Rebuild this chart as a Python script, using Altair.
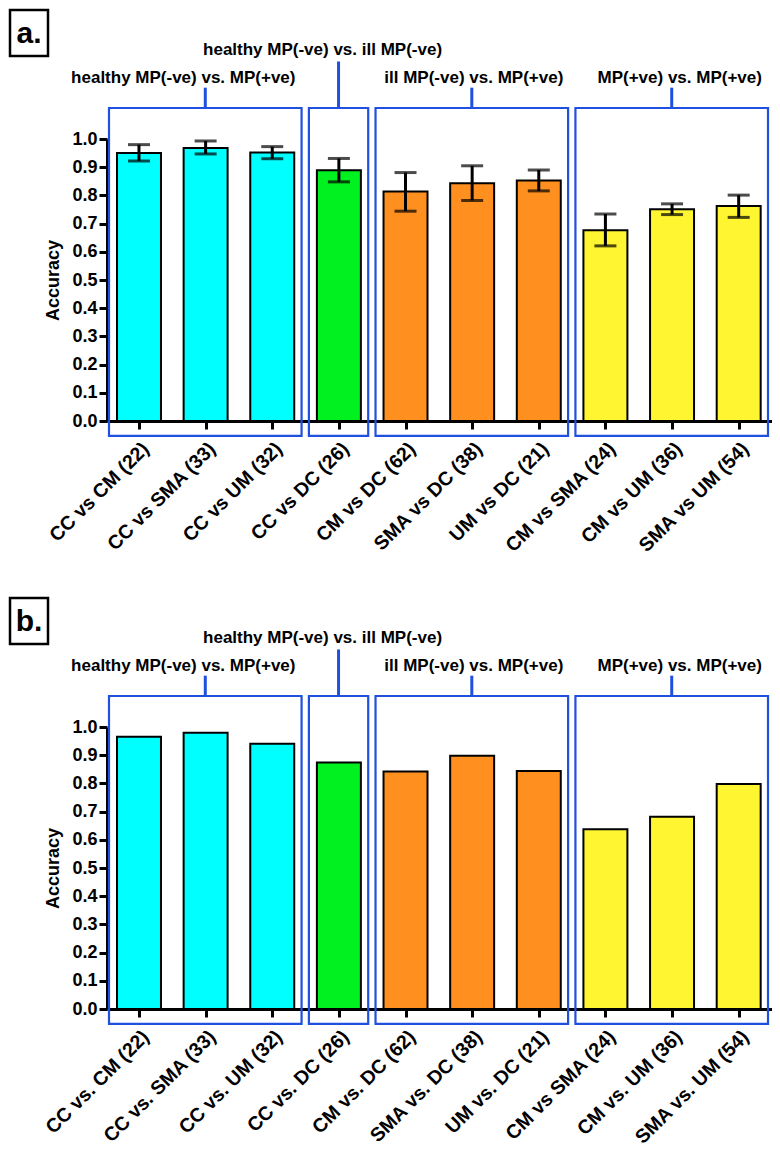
import json
import altair as alt
import pandas as pd

# ---------------- data ----------------
labels_a = ["CC vs CM (22)", "CC vs SMA (33)", "CC vs UM (32)", "CC vs DC (26)",
            "CM vs DC (62)", "SMA vs DC (38)", "UM vs DC (21)",
            "CM vs SMA (24)", "CM vs UM (36)", "SMA vs UM (54)"]
labels_b = ["CC vs. CM (22)", "CC vs. SMA (33)", "CC vs. UM (32)", "CC vs. DC (26)",
            "CM vs. DC (62)", "SMA vs. DC (38)", "UM vs. DC (21)",
            "CM vs SMA (24)", "CM vs. UM (36)", "SMA vs. UM (54)"]
accuracy_a = [0.950, 0.968, 0.952, 0.889, 0.814, 0.843, 0.853, 0.676, 0.751, 0.762]
err_low_a = [0.922, 0.947, 0.930, 0.848, 0.744, 0.782, 0.816, 0.621, 0.732, 0.722]
err_high_a = [0.980, 0.993, 0.973, 0.931, 0.881, 0.905, 0.890, 0.734, 0.770, 0.801]
accuracy_b = [0.965, 0.980, 0.941, 0.874, 0.842, 0.898, 0.844, 0.637, 0.682, 0.798]

group_names = ["healthy MP(-ve) vs. MP(+ve)", "healthy MP(-ve) vs. ill MP(-ve)",
               "ill MP(-ve) vs. MP(+ve)", "MP(+ve) vs. MP(+ve)"]
group_colors = ["#00FFFF", "#00F020", "#FF9020", "#FFF530"]
bar_group = [0, 0, 0, 1, 2, 2, 2, 3, 3, 3]
y_ticks = [0.0, 0.1, 0.2, 0.3, 0.4, 0.5, 0.6, 0.7, 0.8, 0.9, 1.0]

# ---------------- style ----------------
FONT = "Liberation Sans"
BLUE = "#2050E0"
HALF_BAR = 0.33
BOX_PAD_L, BOX_PAD_R = 0.45, 0.44
BOX_TOP, BOX_BOTTOM = 1.11, -0.053
STEM_TOP = [1.182, 1.275, 1.182, 1.182]
LABEL_Y = [1.198, 1.298, 1.198, 1.198]
LABEL_SHIFT = [-0.33, -0.24, 0.03, 0.12]
W, H = 665, 282


def make_panel(letter, labels, acc, lo=None, hi=None):
    n = len(labels)
    bars = pd.DataFrame({
        "idx": list(range(n)),
        "label": labels,
        "acc": acc,
        "group": [group_names[g] for g in bar_group],
    })
    bars["x0"] = bars["idx"] - HALF_BAR
    bars["x1"] = bars["idx"] + HALF_BAR

    rows = []
    for gi, name in enumerate(group_names):
        members = [i for i, g in enumerate(bar_group) if g == gi]
        left = min(members) - BOX_PAD_L
        right = max(members) + BOX_PAD_R
        center = (left + right) / 2
        rows.append({"name": name, "left": left, "right": right, "center": center,
                     "top": BOX_TOP, "bottom": BOX_BOTTOM, "stem": STEM_TOP[gi],
                     "lx": center + LABEL_SHIFT[gi], "ly": LABEL_Y[gi]})
    groups = pd.DataFrame(rows)

    xscale = alt.Scale(domain=[-0.48, 9.5], nice=False, zero=False)
    yscale = alt.Scale(domain=[0, 1], nice=False, zero=False)
    label_expr = "[" + ",".join(json.dumps(l) for l in labels) + "][datum.value]"
    xaxis = alt.Axis(values=list(range(n)), labelExpr=label_expr, title=None, grid=False,
                     labelAngle=315, labelAlign="right", labelBaseline="top",
                     labelPadding=10, labelFont=FONT, labelFontSize=19.5,
                     labelFontWeight="bold", labelColor="black", labelOverlap=False,
                     labelFlush=False, labelBound=False, domainColor="black",
                     domainWidth=3, tickColor="black", tickWidth=3, tickSize=8)
    yaxis = alt.Axis(values=y_ticks, format=".1f", title="Accuracy", grid=False,
                     labelFont=FONT, labelFontSize=18, labelFontWeight="bold",
                     labelColor="black", labelPadding=2, titleFont=FONT,
                     titleFontSize=18, titleFontWeight="bold", titleColor="black",
                     titlePadding=9, domainColor="black", domainWidth=3,
                     tickColor="black", tickWidth=3, tickSize=8)

    def X(field):
        return alt.X(field, type="quantitative", scale=xscale, axis=xaxis)

    def Y(field):
        return alt.Y(field, type="quantitative", scale=yscale, axis=yaxis)

    color = alt.Color("group:N", scale=alt.Scale(domain=group_names, range=group_colors),
                      legend=None)

    bar_layer = alt.Chart(bars).mark_rect(stroke="black", strokeWidth=2).encode(
        x=X("x0"), x2="x1", y=Y("acc"), y2=alt.datum(0), fill=color)

    layers = [bar_layer]

    if lo is not None:
        err = pd.DataFrame({"idx": list(range(n)), "lo": lo, "hi": hi})
        layers.append(alt.Chart(err).mark_rule(color="black", strokeWidth=3).encode(
            x=X("idx"), y=Y("lo"), y2="hi"))
        layers.append(alt.Chart(err).mark_tick(color="black", orient="horizontal",
                                               size=22, thickness=3).encode(
            x=X("idx"), y=Y("hi")))
        layers.append(alt.Chart(err).mark_tick(color="black", orient="horizontal",
                                               size=22, thickness=3).encode(
            x=X("idx"), y=Y("lo")))

    layers.append(alt.Chart(groups).mark_rect(fillOpacity=0, stroke=BLUE,
                                              strokeWidth=2.2).encode(
        x=X("left"), x2="right", y=Y("top"), y2="bottom"))
    layers.append(alt.Chart(groups).mark_rule(color=BLUE, strokeWidth=3).encode(
        x=X("center"), y=Y("top"), y2="stem"))
    layers.append(alt.Chart(groups).mark_text(font=FONT, fontSize=17, fontWeight="bold",
                                              color="black", align="center",
                                              baseline="alphabetic").encode(
        x=X("lx"), y=Y("ly"), text="name:N"))

    tag = pd.DataFrame({"t": [letter]})
    layers.append(alt.Chart(tag).mark_rect(fillOpacity=0, stroke="black",
                                           strokeWidth=2.5).encode(
        x=alt.value(-97), x2=alt.value(-59), y=alt.value(-129), y2=alt.value(-83)))
    layers.append(alt.Chart(tag).mark_text(font=FONT, fontSize=30, fontWeight="bold",
                                           color="black", align="center",
                                           baseline="middle").encode(
        x=alt.value(-78), y=alt.value(-105), text="t:N"))

    return alt.layer(*layers).properties(width=W, height=H)


panel_a = make_panel("a.", labels_a, accuracy_a, err_low_a, err_high_a)
panel_b = make_panel("b.", labels_b, accuracy_b)

chart = alt.vconcat(panel_a, panel_b, spacing=40).properties(padding=0).configure_view(
    stroke=None)

chart.save("out.html", embed_options={"renderer": "svg", "actions": False})
